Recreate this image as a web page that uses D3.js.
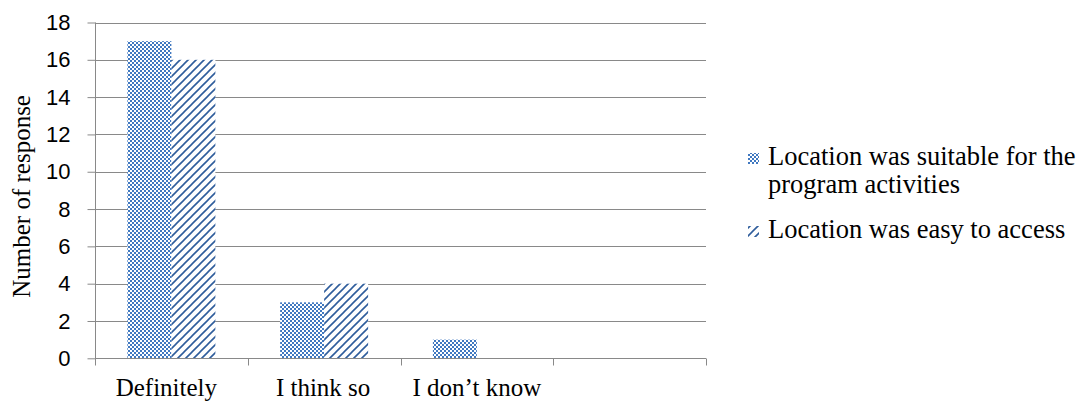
<!DOCTYPE html>
<html>
<head>
<meta charset="utf-8">
<script src="https://cdn.jsdelivr.net/npm/d3@7"></script>
<style>
  html, body { margin: 0; padding: 0; background: #ffffff; }
  svg { display: block; }
</style>
</head>
<body>
<svg id="chart" width="1078" height="402"></svg>
<script>
// ---- data ----
const categories = ["Definitely", "I think so", "I don\u2019t know", ""];
const seriesNames = ["Location was suitable for the program activities", "Location was easy to access"];
const suitableValues = [17, 3, 1, 0];
const accessValues = [16, 4, 0, 0];
const yTicks = [0, 2, 4, 6, 8, 10, 12, 14, 16, 18];
const yTitle = "Number of response";

// ---- layout ----
const svg = d3.select("#chart");
const plotL = 95, plotR = 706, plotT = 22.5, plotB = 358.3;
const gridColor = "#898989";
const blue = "#4078c0";
const stripeBlue = "#2f5d9c";

const defs = svg.append("defs");
// checker pattern
const pc = defs.append("pattern").attr("id", "checker")
  .attr("patternUnits", "userSpaceOnUse").attr("width", 4).attr("height", 4);
pc.append("rect").attr("width", 4).attr("height", 4).attr("fill", blue);
pc.append("rect").attr("x", 0).attr("y", 0).attr("width", 2).attr("height", 2).attr("fill", "#ffffff");
pc.append("rect").attr("x", 2).attr("y", 2).attr("width", 2).attr("height", 2).attr("fill", "#ffffff");
// diagonal stripe pattern
const ps = defs.append("pattern").attr("id", "stripes")
  .attr("patternUnits", "userSpaceOnUse").attr("width", 8).attr("height", 8);
ps.append("rect").attr("width", 8).attr("height", 8).attr("fill", "#ffffff");
ps.append("path").attr("d", "M0,8 L8,0 M-2,2 L2,-2 M6,10 L10,6")
  .attr("stroke", stripeBlue).attr("stroke-width", 1.6);

const fills = ["url(#checker)", "url(#stripes)"];
const seriesValues = [suitableValues, accessValues];

const x0 = d3.scaleBand().domain(categories.map((c, i) => i)).range([plotL, plotR]).paddingInner(0).paddingOuter(0);
const x1 = d3.scaleBand().domain([0, 1]).range([0, x0.bandwidth()]).paddingInner(0).paddingOuter(0.736);
const y = d3.scaleLinear().domain([0, 18]).range([plotB, plotT]);

// gridlines
svg.append("g").selectAll("line").data(yTicks.filter(t => t > 0)).join("line")
  .attr("x1", plotL).attr("x2", plotR)
  .attr("y1", d => Math.round(y(d)) + 0.5).attr("y2", d => Math.round(y(d)) + 0.5)
  .attr("stroke", gridColor).attr("stroke-width", 1);

// bars
const gBars = svg.append("g");
seriesValues.forEach((vals, s) => {
  gBars.append("g").selectAll("rect").data(vals.map((v, i) => ({ v, i }))).join("rect")
    .filter(d => d.v > 0)
    .attr("x", d => x0(d.i) + x1(s))
    .attr("width", x1.bandwidth())
    .attr("y", d => y(d.v))
    .attr("height", d => y(0) - y(d.v))
    .attr("fill", fills[s]);
});

// y axis
const yAxis = d3.axisLeft(y).tickValues(yTicks).tickSize(8).tickPadding(17).tickFormat(d3.format("d"));
const gy = svg.append("g").attr("transform", `translate(${plotL + 0.5},0)`).call(yAxis);
gy.select(".domain").attr("stroke", gridColor).attr("d", `M0,${y(18)}V${y(0)}`);
gy.selectAll(".tick line").attr("stroke", gridColor);
gy.selectAll(".tick text").attr("fill", "#000").style("font-family", "'Liberation Sans', Arial, sans-serif")
  .style("font-size", "22px");

// x axis
const gx = svg.append("g").attr("transform", `translate(0,${Math.round(plotB) + 0.5})`);
gx.append("line").attr("x1", plotL).attr("x2", plotR).attr("stroke", gridColor);
const boundaries = categories.map((c, i) => x0(i)).concat([plotR]);
gx.selectAll("line.tk").data(boundaries).join("line").attr("class", "tk")
  .attr("x1", d => Math.round(d) + 0.5).attr("x2", d => Math.round(d) + 0.5)
  .attr("y1", 0).attr("y2", 7).attr("stroke", gridColor);
const labelShift = [-5, -1, 0, 0];
gx.selectAll("text").data(categories).join("text")
  .attr("x", (d, i) => x0(i) + x0.bandwidth() / 2 + labelShift[i])
  .attr("y", 37)
  .attr("text-anchor", "middle")
  .style("font-family", "'Liberation Serif', 'Times New Roman', serif")
  .style("font-size", "25px")
  .text(d => d);

// y title
svg.append("text")
  .attr("transform", `translate(30,${(plotT + plotB) / 2 + 6}) rotate(-90)`)
  .attr("text-anchor", "middle")
  .style("font-family", "'Liberation Serif', 'Times New Roman', serif")
  .style("font-size", "25px")
  .text(yTitle);

// legend
const legend = svg.append("g").style("font-family", "'Liberation Serif', 'Times New Roman', serif")
  .style("font-size", "26.5px");
const legendLines = [["Location was suitable for the", "program activities"], ["Location was easy to access"]];
const legendY = [165, 238];
legendLines.forEach((lines, s) => {
  legend.append("rect").attr("x", 748).attr("y", legendY[s] - 12).attr("width", 11).attr("height", 11)
    .attr("fill", fills[s]);
  const t = legend.append("text").attr("x", 768).attr("y", legendY[s]);
  lines.forEach((ln, k) => {
    t.append("tspan").attr("x", 768).attr("dy", k === 0 ? 0 : 28).text(ln);
  });
});
</script>
</body>
</html>
